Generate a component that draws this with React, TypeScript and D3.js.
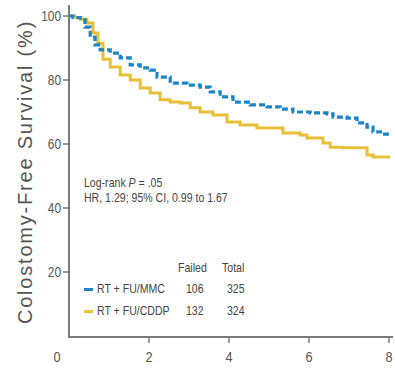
import React from "react";
import * as d3 from "d3";

// Kaplan-Meier step points: [years, % survival]
const mmcCurve: [number, number][] = [
  [0, 100], [0.1, 99.5], [0.28, 98.8], [0.4, 96.5], [0.53, 93.4], [0.65, 91], [0.78, 89.4],
  [1.03, 88.4], [1.28, 86.9], [1.53, 84.7], [1.78, 83.8], [2.03, 83.1], [2.2, 80.9],
  [2.53, 79], [2.95, 78.4], [3.28, 77.8], [3.53, 76.3], [3.78, 74.7], [4.1, 73.1],
  [4.53, 72.2], [4.95, 71.6], [5.28, 70.9], [5.6, 70], [6.03, 69.7], [6.45, 69.4],
  [6.6, 68.4], [6.95, 68.1], [7.2, 66.6], [7.45, 65.3], [7.6, 63.8], [7.83, 63.1], [8.03, 63.1],
];
const cddpCurve: [number, number][] = [
  [0, 100], [0.15, 99.5], [0.3, 99], [0.45, 97.8], [0.6, 94.7], [0.72, 91.5], [0.85, 86.5],
  [1.03, 84.1], [1.28, 81.6], [1.53, 80], [1.78, 77.5], [2.03, 75.9], [2.28, 73.8],
  [2.53, 73.1], [2.78, 72.8], [3.03, 71.3], [3.28, 70], [3.6, 69.1], [3.95, 66.9],
  [4.28, 65.9], [4.7, 65], [5.1, 65], [5.35, 63.4], [5.78, 62.8], [5.95, 61.9],
  [6.35, 60.3], [6.53, 59], [6.85, 58.8], [7.2, 58.8], [7.45, 56.6], [7.6, 55.9], [8.03, 55.9],
];

const xTicks = [0, 2, 4, 6, 8];
const yTicks = [20, 40, 60, 80, 100];

const arms = ["RT + FU/MMC", "RT + FU/CDDP"];
const failed = [106, 132];
const totals = [325, 324];
const armColors = ["#1a86c8", "#e9bf35"];

const W = 395;
const H = 368;
const FONT = "'Liberation Sans', Arial, sans-serif";

// condensed-looking text: regular sans squeezed horizontally
function NText(props: {
  x: number;
  y: number;
  size: number;
  sx?: number;
  anchor?: string;
  fill?: string;
  children: React.ReactNode;
}) {
  const { x, y, size, sx = 0.88, anchor = "start", fill = "#444", children } = props;
  return (
    <text
      transform={`translate(${x},${y}) scale(${sx},1)`}
      textAnchor={anchor}
      fontSize={size}
      fontFamily={FONT}
      fill={fill}
    >
      {children}
    </text>
  );
}

export default function App() {
  const x = d3.scaleLinear().domain([0, 8]).range([69, 389]);
  const y = d3.scaleLinear().domain([0, 100]).range([336, 16]);
  const line = d3
    .line<[number, number]>()
    .x((d) => x(d[0]))
    .y((d) => y(d[1]))
    .curve(d3.curveStepAfter);

  const axisColor = "#7a7a7a";
  const textColor = "#555";

  return (
    <svg
      width={W}
      height={H}
      style={{ position: "absolute", left: 0, top: 0, background: "#fff" }}
    >
      <path d={line(cddpCurve) || ""} fill="none" stroke={armColors[1]} strokeWidth={3} />
      <path
        d={line(mmcCurve) || ""}
        fill="none"
        stroke={armColors[0]}
        strokeWidth={3.2}
        strokeDasharray="6,3"
      />

      {/* axes */}
      <line x1={69} x2={69} y1={5} y2={337} stroke={axisColor} strokeWidth={2} />
      <line x1={68} x2={393} y1={337} y2={337} stroke={axisColor} strokeWidth={2} />

      {yTicks.map((t) => (
        <g key={t}>
          <line x1={63} x2={68} y1={y(t)} y2={y(t)} stroke={axisColor} strokeWidth={1.5} />
          <NText x={61} y={y(t) + 5} size={14} sx={0.85} anchor="end" fill={textColor}>
            {t}
          </NText>
        </g>
      ))}

      {xTicks.map((t) => (
        <g key={t}>
          {t > 0 && (
            <line x1={x(t)} x2={x(t)} y1={338} y2={343} stroke={axisColor} strokeWidth={1.5} />
          )}
          <NText x={t === 0 ? 57 : x(t)} y={362} size={15} sx={0.85} anchor="middle" fill={textColor}>
            {t}
          </NText>
        </g>
      ))}

      <text
        transform={`translate(32,172) rotate(-90)`}
        textAnchor="middle"
        fontSize={20}
        letterSpacing={1.8}
        fontFamily={FONT}
        fill={textColor}
      >
        Colostomy-Free Survival (%)
      </text>

      <NText x={84} y={187} size={12}>
        Log-rank <tspan fontStyle="italic">P</tspan> = .05
      </NText>
      <NText x={84} y={202} size={12}>
        HR, 1.29; 95% CI, 0.99 to 1.67
      </NText>

      <NText x={178} y={272} size={12}>
        Failed
      </NText>
      <NText x={222} y={272} size={12}>
        Total
      </NText>
      {arms.map((a, i) => {
        const ry = 293 + i * 22;
        return (
          <g key={a}>
            <rect x={84} y={ry - 5} width={9} height={3} fill={armColors[i]} />
            <NText x={97} y={ry} size={12}>
              {a}
            </NText>
            <NText x={186} y={ry} size={12}>
              {failed[i]}
            </NText>
            <NText x={227} y={ry} size={12}>
              {totals[i]}
            </NText>
          </g>
        );
      })}
    </svg>
  );
}
